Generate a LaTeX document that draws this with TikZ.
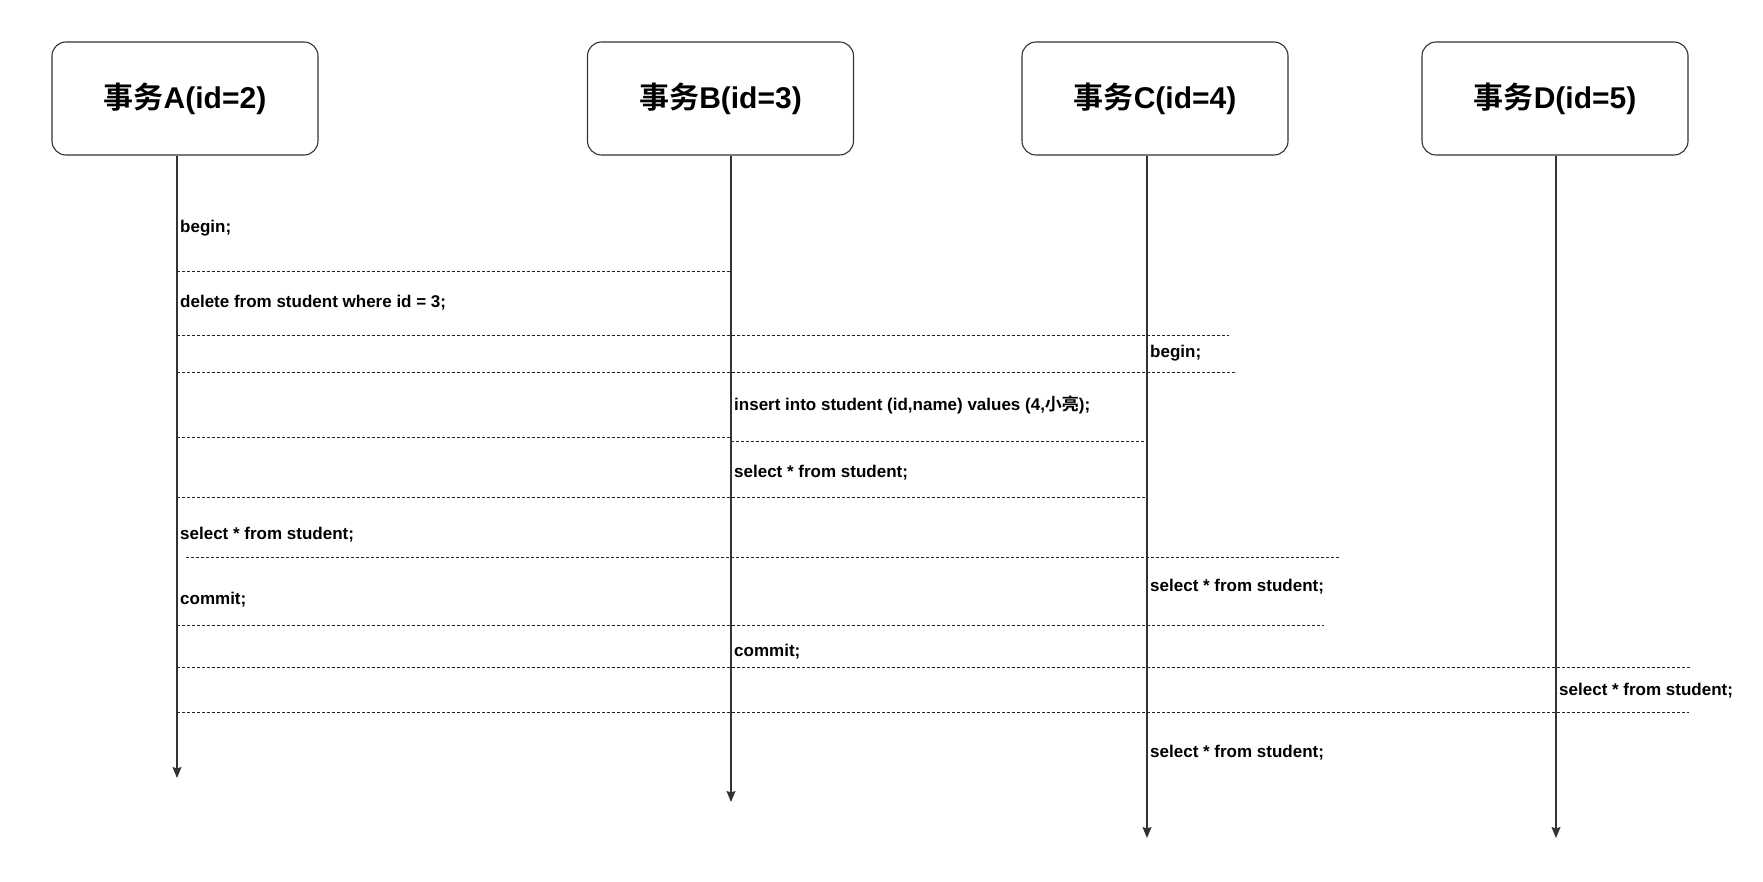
\documentclass[tikz,border=0pt]{standalone}
\usepackage{fontspec}
\setmainfont{Liberation Sans}
\newfontfamily\cjk{Noto Sans CJK SC}[BoldFont={* Bold}]
\usetikzlibrary{arrows.meta}

\begin{document}
\begin{tikzpicture}[x=1pt,y=-1pt,
  txbox/.style={draw=black!80, line width=1.1pt, rounded corners=14pt,
    minimum width=266pt, minimum height=113pt, inner sep=0pt,
    font=\fontsize{30}{34}\selectfont\bfseries},
  lifeline/.style={draw=black!80, line width=1.1pt,
    -{Stealth[length=11pt,width=9pt,inset=1.5pt]}},
  sep/.style={draw=black!85, line width=1pt, dash pattern=on 3pt off 2pt},
  stmt/.style={anchor=west, inner sep=0pt,
    font=\fontsize{17}{20}\selectfont\bfseries}]
\useasboundingbox (0,0) rectangle (1763,882);

% transaction headers
\node[txbox] (tA) at (185,98.5) {{\cjk 事务}A(id=2)};
\node[txbox] (tB) at (720.5,98.5) {{\cjk 事务}B(id=3)};
\node[txbox] (tC) at (1155,98.5) {{\cjk 事务}C(id=4)};
\node[txbox] (tD) at (1555,98.5) {{\cjk 事务}D(id=5)};

% time axes
\coordinate (eA) at (177,778);
\coordinate (eB) at (731,802);
\coordinate (eC) at (1147,838);
\coordinate (eD) at (1556,838);
\draw[lifeline] (tA.south -| eA) -- (eA);
\draw[lifeline] (tB.south -| eB) -- (eB);
\draw[lifeline] (tC.south -| eC) -- (eC);
\draw[lifeline] (tD.south -| eD) -- (eD);

% step separators
\coordinate (s1l) at (177,272);  \coordinate (s1r) at (731,272);
\coordinate (s2l) at (177,336);  \coordinate (s2r) at (1229,336);
\coordinate (s3l) at (177,372);  \coordinate (s3r) at (1237,372);
\coordinate (s4l) at (177,437);  \coordinate (s4m) at (731,437);
\coordinate (s4n) at (731,441);  \coordinate (s4r) at (1147,441);
\coordinate (s5l) at (177,497);  \coordinate (s5r) at (1148,497);
\coordinate (s6l) at (186,557);  \coordinate (s6r) at (1339,557);
\coordinate (s7l) at (177,625);  \coordinate (s7r) at (1324,625);
\coordinate (s8l) at (177,667);  \coordinate (s8r) at (1692,667);
\coordinate (s9l) at (177,712);  \coordinate (s9r) at (1689,712);
\draw[sep] (s1l) -- (s1r);
\draw[sep] (s2l) -- (s2r);
\draw[sep] (s3l) -- (s3r);
\draw[sep] (s4l) -- (s4m);
\draw[sep] (s4n) -- (s4r);
\draw[sep] (s5l) -- (s5r);
\draw[sep] (s6l) -- (s6r);
\draw[sep] (s7l) -- (s7r);
\draw[sep] (s8l) -- (s8r);
\draw[sep] (s9l) -- (s9r);

% statements
\node[stmt] (a1) at (180,228) {begin;};
\node[stmt] (a2) at (180,303) {delete from student where id = 3;};
\node[stmt] (c1) at (1150,353) {begin;};
\node[stmt] (b1) at (734,405) {insert into student (id,name) values (4,{\cjk\bfseries 小亮});};
\node[stmt] (b2) at (734,473) {select * from student;};
\node[stmt] (a3) at (180,535) {select * from student;};
\node[stmt] (c2) at (1150,587) {select * from student;};
\node[stmt] (a4) at (180,600) {commit;};
\node[stmt] (b3) at (734,652) {commit;};
\node[stmt] (d1) at (1559,691) {select * from student;};
\node[stmt] (c3) at (1150,753) {select * from student;};
\end{tikzpicture}
\end{document}
